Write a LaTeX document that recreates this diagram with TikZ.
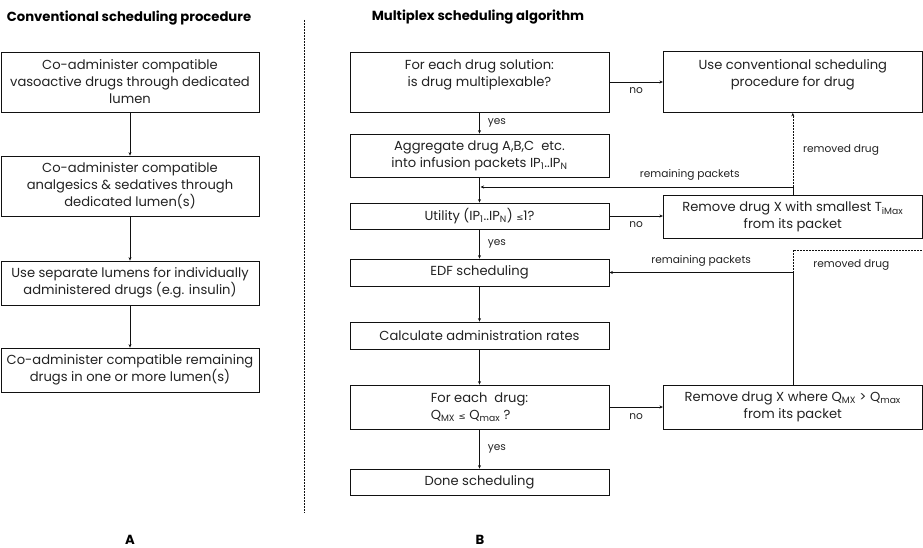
\documentclass[tikz,border=0pt]{standalone}
\usepackage{fontspec}
\setmainfont{Poppins}
\newfontfamily\symfont{DejaVu Sans}
\usetikzlibrary{arrows.meta}
\definecolor{txt}{HTML}{222222}
\definecolor{ln}{HTML}{111111}
\newcommand{\sbs}[1]{\textsubscript{#1}}
\newcommand{\leqs}{{\symfont\fontsize{8.5}{8.5}\selectfont ≤}}
\begin{document}
\begin{tikzpicture}[x=1pt,y=-1pt,
  box/.style={draw=ln, line width=0.8pt, align=center, inner sep=0pt, text=txt,
    font=\fontsize{13.1}{17}\selectfont},
  lbl/.style={text=txt, inner sep=0pt, font=\fontsize{10.6}{12}\selectfont},
  ttl/.style={text=black, inner sep=0pt, font=\bfseries\fontsize{13.2}{15}\selectfont},
  conn/.style={draw=ln, line width=0.6pt, -{Stealth[length=3.5pt,width=3pt]}},
  plain/.style={draw=ln, line width=0.6pt},
  dsh/.style={draw=ln, line width=0.6pt, dashed, dash pattern=on 2pt off 1pt}]
\useasboundingbox (0,0) rectangle (923,548);
% titles
\node[ttl] (tA) at (129,18) {Conventional scheduling procedure};
\node[ttl] (tB) at (478,17) {Multiplex scheduling algorithm};
\node[ttl] (lA) at (130,540) {A};
\node[ttl] (lB) at (480,540) {B};
% separator
\coordinate (s1) at (304,20);
\coordinate (s2) at (304,513);
\draw[dsh] (s1) -- (s2);
% left column
\node[box, minimum width=258pt, minimum height=60pt] (A1) at (130,82)
  {Co-administer compatible\\vasoactive drugs through dedicated\\lumen};
\node[box, minimum width=258pt, minimum height=60pt] (A2) at (130,186)
  {Co-administer compatible\\analgesics \& sedatives through\\dedicated lumen(s)};
\node[box, minimum width=258pt, minimum height=44pt] (A3) at (130,283)
  {Use separate lumens for individually\\administered drugs (e.g. insulin)};
\node[box, minimum width=258pt, minimum height=44pt] (A4) at (130,370)
  {Co-administer compatible remaining\\drugs in one or more lumen(s)};
\draw[conn] (A1) -- (A2);
\draw[conn] (A2) -- (A3);
\draw[conn] (A3) -- (A4);
% right column
\node[box, minimum width=259pt, minimum height=60pt] (B1) at (479.5,82)
  {For each drug solution:\\is drug multiplexable?\\\mbox{}};
\node[box, minimum width=259pt, minimum height=43pt] (B2) at (479.5,155.5)
  {Aggregate drug A,B,C\ \ etc.\\into infusion packets IP\sbs{1}..IP\sbs{N}};
\node[box, minimum width=259pt, minimum height=26pt] (B3) at (479.5,216)
  {Utility (IP\sbs{1}..IP\sbs{N}) \leqs1?};
\node[box, minimum width=259pt, minimum height=27pt] (B4) at (479.5,272.5)
  {EDF scheduling};
\node[box, minimum width=259pt, minimum height=27pt] (B5) at (479.5,335.5)
  {Calculate administration rates};
\node[box, minimum width=259pt, minimum height=44pt, align=left] (B6) at (479.5,407)
  {For each\ \ drug:\\Q\sbs{MX} \leqs\ Q\sbs{max} ?};
\node[box, minimum width=259pt, minimum height=26pt] (B7) at (479.5,482)
  {Done scheduling};
\node[box, minimum width=259pt, minimum height=61pt] (C1) at (792.8,82)
  {Use conventional scheduling\\procedure for drug\\\mbox{}};
\node[box, minimum width=259pt, minimum height=43pt] (R1) at (792.8,216.5)
  {Remove drug X with smallest T\sbs{iMax}\\from its packet};
\node[box, minimum width=259pt, minimum height=44pt] (R2) at (792.8,407)
  {Remove drug X where Q\sbs{MX} > Q\sbs{max}\\from its packet};
% connectors
\draw[conn] (B1) -- (B2) node[lbl, midway, right=8pt] {yes};
\draw[conn] (B1.east) -- (C1.west |- B1.east) node[lbl, pos=0.5, below=5pt] {no};
\draw[conn] (B2) -- (B3);
\coordinate (J1) at (792.8,187);
\draw[conn] (R1.north) -- (J1) -- ([xshift=1pt]J1 -| B3.north)
  node[lbl, pos=0.33, above=6pt] {remaining packets};
\draw[dsh, -{Stealth[length=3.5pt,width=3pt]}] (J1) -- (C1.south)
  node[lbl, midway, right=10pt] {removed drug};
\draw[conn] (B3.east) -- (B3.east -| R1.west) node[lbl, midway, below=5pt] {no};
\draw[conn] (B3) -- (B4) node[lbl, midway, right=8pt] {yes};
\coordinate (J2) at (792.8,272.5);
\coordinate (D1) at (792.8,250);
\coordinate (D2) at (922.8,250);
\draw[conn] (R2.north) -- (J2) -- (B4.east)
  node[lbl, pos=0.5, above=6pt] {remaining packets};
\draw[dsh] (J2) -- (D1) -- (D2) node[lbl, pos=0.45, below=9pt] {removed drug};
\draw[conn] (B4) -- (B5);
\draw[conn] (B5) -- (B6);
\draw[conn] (B6.east) -- (R2.west |- B6.east) node[lbl, midway, below=6pt] {no};
\draw[conn] (B6) -- (B7) node[lbl, midway, right=8pt] {yes};
\end{tikzpicture}
\end{document}
